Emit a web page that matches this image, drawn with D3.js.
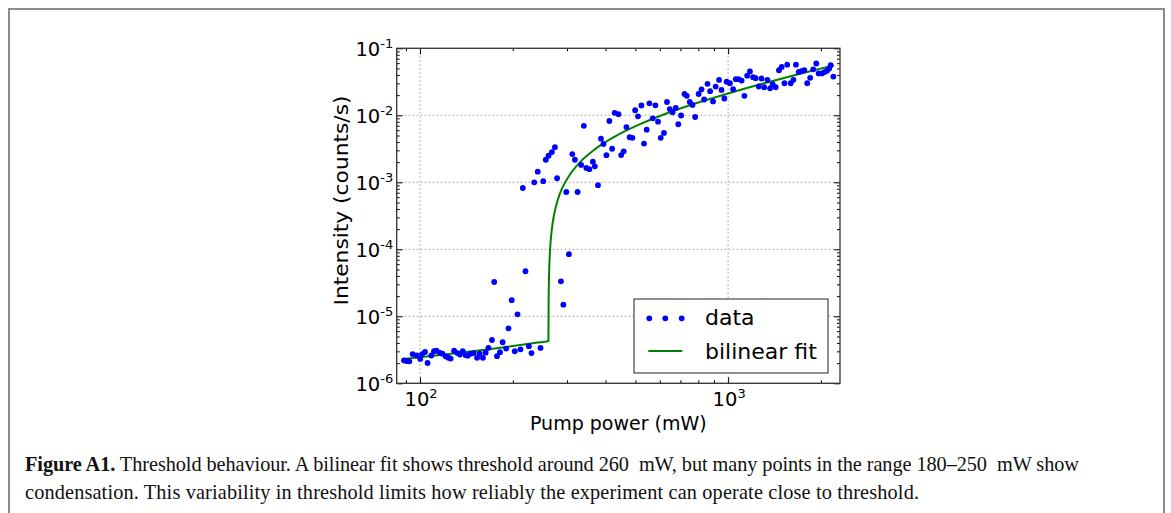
<!DOCTYPE html>
<html>
<head>
<meta charset="utf-8">
<script src="https://cdn.jsdelivr.net/npm/d3@7"></script>
<style>
  body { margin: 0; background: #fff; }
  svg { display: block; }
</style>
</head>
<body>
<div class="box"></div>
<script>
// DATA

// measured points: pump power (mW) and intensity (counts/s)
const powerData = [
  88.7, 90.4, 92.3, 94.6, 97.5, 100.2, 101.5, 103.8, 105.8, 108.8,
  111.0, 113.1, 116.0, 118.2, 121.1, 123.6, 125.7, 129.0, 132.2, 134.7,
  137.6, 140.4, 142.8, 146.0, 149.4, 153.2, 156.2, 160.0, 163.3, 166.7,
  171.2, 174.1, 177.7, 181.7, 185.4, 190.3, 193.7, 198.4, 203.0, 207.2,
  211.9, 215.6, 219.9, 225.5, 230.0, 234.8, 241.0, 246.1, 251.1, 256.0,
  261.3, 267.9, 274.0, 278.5, 286.6, 291.9, 298.3, 304.2, 312.0, 318.2,
  324.6, 333.3, 340.1, 346.5, 354.6, 363.8, 369.3, 378.0, 386.6, 393.9,
  402.7, 411.6, 420.3, 428.3, 440.6, 449.6, 458.1, 467.5, 479.1, 489.0,
  499.1, 509.7, 523.0, 533.2, 544.1, 555.2, 569.1, 580.8, 592.2, 604.3,
  619.0, 633.1, 646.5, 660.2, 676.1, 688.9, 703.5, 721.7, 734.1, 750.8,
  766.2, 781.3, 802.1, 819.7, 835.6, 857.1, 874.0, 893.2, 910.9, 934.8,
  951.7, 971.9, 988.8, 1013, 1038, 1059, 1081, 1106, 1129, 1153,
  1177, 1205, 1228, 1257, 1284, 1309, 1341, 1368, 1395, 1427,
  1462, 1492, 1523, 1555, 1596, 1629, 1660, 1695, 1730, 1767,
  1806, 1846, 1889, 1932, 1967, 2014, 2052, 2094, 2128, 2152, 2195
];
const intensityData = [
  2.20e-6, 2.15e-6, 2.13e-6, 2.73e-6, 2.60e-6, 2.31e-6, 2.73e-6, 2.93e-6, 2.01e-6, 2.60e-6,
  3.01e-6, 3.07e-6, 2.85e-6, 2.77e-6, 2.53e-6, 2.41e-6, 2.34e-6, 3.07e-6, 2.83e-6, 2.69e-6,
  3.01e-6, 2.64e-6, 2.58e-6, 2.77e-6, 2.83e-6, 2.40e-6, 2.77e-6, 2.40e-6, 2.86e-6, 3.39e-6,
  4.43e-6, 3.25e-5, 2.54e-6, 2.91e-6, 4.10e-6, 3.30e-6, 6.62e-6, 1.74e-5, 3.01e-6, 1.07e-5,
  3.21e-6, 8.22e-4, 4.70e-5, 3.58e-6, 2.83e-6, 1.00e-3, 1.44e-3, 3.37e-6, 1.04e-3, 2.17e-3,
  2.49e-3, 2.83e-3, 3.34e-3, 1.15e-3, 3.33e-5, 1.49e-5, 7.16e-4, 8.45e-5, 2.64e-3, 2.17e-3,
  7.16e-4, 1.82e-3, 6.97e-3, 1.64e-3, 1.57e-3, 2.03e-3, 1.73e-3, 9.06e-4, 4.48e-3, 3.73e-3,
  2.54e-3, 8.22e-3, 3.17e-3, 1.09e-2, 1.04e-2, 2.55e-3, 2.90e-3, 6.67e-3, 4.70e-3, 4.61e-3,
  1.19e-2, 9.66e-3, 1.40e-2, 3.79e-3, 6.10e-3, 1.51e-2, 9.02e-3, 1.41e-2, 8.02e-3, 4.61e-3,
  5.45e-3, 1.58e-2, 1.24e-2, 1.11e-2, 1.29e-2, 7.35e-3, 9.93e-3, 2.08e-2, 1.95e-2, 1.58e-2,
  1.43e-2, 9.44e-3, 2.08e-2, 2.44e-2, 1.72e-2, 2.95e-2, 2.29e-2, 1.61e-2, 2.68e-2, 3.37e-2,
  2.39e-2, 1.78e-2, 3.17e-2, 3.01e-2, 2.45e-2, 3.46e-2, 3.46e-2, 3.30e-2, 1.95e-2, 3.90e-2,
  4.51e-2, 3.71e-2, 3.58e-2, 2.69e-2, 3.54e-2, 2.62e-2, 3.39e-2, 2.53e-2, 2.91e-2, 2.62e-2,
  4.70e-2, 5.26e-2, 3.01e-2, 5.69e-2, 3.01e-2, 3.39e-2, 5.69e-2, 4.43e-2, 4.55e-2, 4.71e-2,
  3.01e-2, 3.63e-2, 4.86e-2, 5.93e-2, 4.21e-2, 4.21e-2, 4.40e-2, 4.63e-2, 5.00e-2, 5.60e-2, 3.79e-2
];

// bilinear fit, points
const fitPower = [88, 120, 160, 200, 240, 261, 261.5, 262, 263, 265, 268, 272, 280, 290,
                  305, 330, 370, 430, 520, 650, 800, 1000, 1300, 1700, 2200];
const fitIntensity = [2.30e-6, 2.68e-6, 3.13e-6, 3.59e-6, 4.05e-6, 4.28e-6, 1.87e-5, 3.30e-5,
                      6.20e-5, 1.19e-4, 2.05e-4, 3.20e-4, 5.50e-4, 8.40e-4, 1.26e-3, 1.98e-3,
                      3.13e-3, 4.85e-3, 7.43e-3, 1.12e-2, 1.55e-2, 2.12e-2, 2.98e-2, 4.13e-2, 5.56e-2];

// axes
const xDomain = [84, 2307];
const yDomain = [1e-6, 1e-1];
const xMajorTicks = [1e2, 1e3];
const yMajorTicks = [1e-6, 1e-5, 1e-4, 1e-3, 1e-2, 1e-1];
const xLabel = 'Pump power (mW)';
const yLabel = 'Intensity (counts/s)';
const legendLabels = ['data', 'bilinear fit'];

// caption
const captionBold = 'Figure A1.';
const captionLines = [
  ' Threshold behaviour. A bilinear fit shows threshold around 260\u00a0 mW, but many points in the range 180\u2013250\u00a0 mW show',
  'condensation. This variability in threshold limits how reliably the experiment can operate close to threshold.'
];

// SETUP

const dims = {width: 1171, height: 513};
const plot = {left: 396.7, right: 840, top: 48.3, bottom: 383.3};
const font = "'DejaVu Sans', sans-serif";

const svg = d3.select('.box')
              .append('svg')
              .attr('width', dims.width)
              .attr('height', dims.height);

// page frame round the figure
svg.append('rect')
   .attr('x', 9).attr('y', 9)
   .attr('width', 1155).attr('height', 560)
   .attr('fill', 'none')
   .attr('stroke', '#8c8c8c')
   .attr('stroke-width', 2);

const x = d3.scaleLog().domain(xDomain).range([plot.left, plot.right]);
const y = d3.scaleLog().domain(yDomain).range([plot.bottom, plot.top]);

const xMinor = x.ticks().filter(t => !xMajorTicks.includes(t));
const yMinor = y.ticks().filter(t => !yMajorTicks.some(m => Math.abs(m - t) / m < 1e-9));

// grid (dotted, majors only)
const grid = svg.append('g');
grid.selectAll('line.gx')
    .data(xMajorTicks)
    .enter().append('line')
    .attr('x1', d => x(d)).attr('x2', d => x(d))
    .attr('y1', plot.top).attr('y2', plot.bottom);
grid.selectAll('line.gy')
    .data(yMajorTicks)
    .enter().append('line')
    .attr('x1', plot.left).attr('x2', plot.right)
    .attr('y1', d => y(d)).attr('y2', d => y(d));
grid.selectAll('line')
    .attr('stroke', '#9a9a9a')
    .attr('stroke-width', 1)
    .attr('stroke-dasharray', '1.5,2.5');

// fit line
const line = d3.line()
               .x(d => x(d[0]))
               .y(d => y(d[1]))
               .curve(d3.curveMonotoneX);

svg.append('path')
   .datum(d3.zip(fitPower, fitIntensity))
   .attr('d', line)
   .attr('fill', 'none')
   .attr('stroke', '#008000')
   .attr('stroke-width', 2);

// data points
svg.append('g')
   .selectAll('circle')
   .data(d3.zip(powerData, intensityData))
   .enter().append('circle')
   .attr('cx', d => x(d[0]))
   .attr('cy', d => y(d[1]))
   .attr('r', 2.9)
   .attr('fill', '#0000ff');

// ticks on all four sides, pointing in
const noLabel = () => '';
const tickAxes = [
  {axis: d3.axisBottom(x), at: `translate(0,${plot.bottom})`, major: xMajorTicks, minor: xMinor},
  {axis: d3.axisTop(x),    at: `translate(0,${plot.top})`,    major: xMajorTicks, minor: xMinor},
  {axis: d3.axisLeft(y),   at: `translate(${plot.left},0)`,   major: yMajorTicks, minor: yMinor},
  {axis: d3.axisRight(y),  at: `translate(${plot.right},0)`,  major: yMajorTicks, minor: yMinor}
];
tickAxes.forEach(a => {
  svg.append('g').attr('transform', a.at)
     .call(a.axis.tickValues(a.minor).tickSize(-3).tickFormat(noLabel))
     .call(g => g.select('.domain').remove());
  svg.append('g').attr('transform', a.at)
     .call(a.axis.tickValues(a.major).tickSize(-6).tickFormat(noLabel))
     .call(g => g.select('.domain').remove());
});
svg.selectAll('.tick line').attr('stroke', '#000').attr('stroke-width', 1);

// axes frame
svg.append('rect')
   .attr('x', plot.left).attr('y', plot.top)
   .attr('width', plot.right - plot.left)
   .attr('height', plot.bottom - plot.top)
   .attr('fill', 'none')
   .attr('stroke', '#333')
   .attr('stroke-width', 1.3);

// tick labels as 10 with superscript exponent
const powerLabel = (sel, v) => {
  sel.append('tspan').text('10');
  sel.append('tspan')
     .attr('dy', -8)
     .attr('font-size', 13)
     .text(String(Math.round(Math.log10(v))));
};

svg.append('g')
   .selectAll('text')
   .data(xMajorTicks)
   .enter().append('text')
   .attr('x', d => x(d) + 1)
   .attr('y', plot.bottom + 23)
   .attr('text-anchor', 'middle')
   .attr('font-family', font)
   .attr('font-size', 19.5)
   .each(function(d) { powerLabel(d3.select(this), d); });

svg.append('g')
   .selectAll('text')
   .data(yMajorTicks)
   .enter().append('text')
   .attr('x', plot.left - 3.5)
   .attr('y', d => y(d) + 7.5)
   .attr('text-anchor', 'end')
   .attr('font-family', font)
   .attr('font-size', 19.5)
   .each(function(d) { powerLabel(d3.select(this), d); });

// axis titles
svg.append('text')
   .attr('x', (plot.left + plot.right) / 2)
   .attr('y', 430)
   .attr('text-anchor', 'middle')
   .attr('font-family', font)
   .attr('font-size', 19)
   .text(xLabel);

svg.append('text')
   .attr('transform', `translate(347.5, 200.5) rotate(-90)`)
   .attr('text-anchor', 'middle')
   .attr('font-family', font)
   .attr('font-size', 20)
   .attr('textLength', 210)
   .attr('lengthAdjust', 'spacingAndGlyphs')
   .text(yLabel);

// legend
const legend = svg.append('g').attr('transform', 'translate(634, 299)');
legend.append('rect')
      .attr('width', 194).attr('height', 74)
      .attr('fill', '#fff')
      .attr('stroke', '#222')
      .attr('stroke-width', 1);
legend.selectAll('circle')
      .data([15.3, 31.3, 47.7])
      .enter().append('circle')
      .attr('cx', d => d).attr('cy', 19.3)
      .attr('r', 2.9)
      .attr('fill', '#0000ff');
legend.append('line')
      .attr('x1', 14.3).attr('x2', 48.3)
      .attr('y1', 52).attr('y2', 52)
      .attr('stroke', '#008000')
      .attr('stroke-width', 2);
legend.selectAll('text')
      .data(legendLabels)
      .enter().append('text')
      .attr('x', 71)
      .attr('y', (d, i) => 26 + i * 34)
      .attr('font-family', font)
      .attr('font-size', 22)
      .text(d => d);

// caption
const caption = svg.append('g')
                   .attr('font-family', "'Liberation Serif', 'Times New Roman', serif")
                   .attr('font-size', 20.3)
                   .attr('fill', '#111');
const first = caption.append('text')
                     .attr('x', 25).attr('y', 471)
                     .attr('textLength', 1054);
first.append('tspan').attr('font-weight', 'bold').text(captionBold);
first.append('tspan').text(captionLines[0]);
caption.append('text')
       .attr('x', 25).attr('y', 499)
       .attr('textLength', 894)
       .text(captionLines[1]);
</script>
</body>
</html>
